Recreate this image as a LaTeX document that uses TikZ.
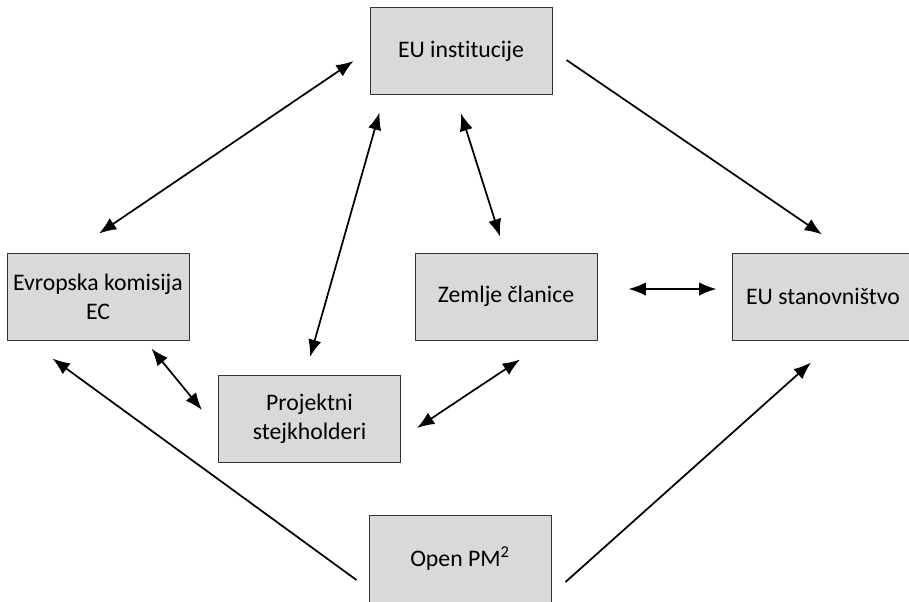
\documentclass[tikz,border=0pt]{standalone}
\usepackage{fontspec}
\setmainfont{Carlito}[Ligatures=NoCommon]
\usetikzlibrary{arrows.meta,calc}
\definecolor{boxgray}{HTML}{D9D9D9}
\begin{document}
\begin{tikzpicture}[x=0.75pt,y=-0.75pt,
  box/.style={draw=black!80,line width=0.75pt,fill=boxgray,minimum width=136.5pt,minimum height=65.25pt,align=center,inner sep=0pt,font=\fontsize{17.8}{21.5}\selectfont},
  link/.style={line width=1.3pt,-{Latex[length=13pt,width=10pt]}},
  both/.style={link,{Latex[length=13pt,width=10pt]}-{Latex[length=13pt,width=10pt]}}]
\clip (0,0) rectangle (909,601);
\node[box] (inst) at (461,51) {EU institucije};
\node[box] (evr) at (98,296.5) {Evropska komisija\\EC};
\node[box] (zem) at (506,296.5) {Zemlje članice};
\node[box] (stan) at (823,296.5) {EU stanovništvo};
\node[box] (proj) at (309.5,419) {Projektni\\stejkholderi};
\node[box] (open) at (460,558.5) {Open PM\textsuperscript{2}};

\draw[both] ($(inst.west)+(-16,10)$) -- ($(evr.north)+(1,-19)$);
\draw[both] ($(inst.south west)+(10,17.5)$) -- ($(proj.north)+(0.5,-18)$);
\draw[both] ($(inst.south)+(0,18.5)$) -- ($(zem.north)+(-6,-16)$);
\draw[link] ($(inst.east)+(14,9)$) -- ($(stan.north)+(-1,-18)$);
\draw[both] ($(zem.east)+(31,-7.5)$) -- ($(stan.west)+(-15,-7.5)$);
\draw[both] ($(evr.south east)+(-38,8)$) -- ($(proj.west)+(-16,-9)$);
\draw[both] ($(proj.east)+(16,9)$) -- ($(zem.south)+(14,19)$);
\draw[link] ($(open.west)+(-12,21.5)$) -- ($(evr.south west)+(46,18)$);
\draw[link] ($(open.east)+(14,23.5)$) -- ($(stan.south)+(-12,22)$);
\end{tikzpicture}
\end{document}
